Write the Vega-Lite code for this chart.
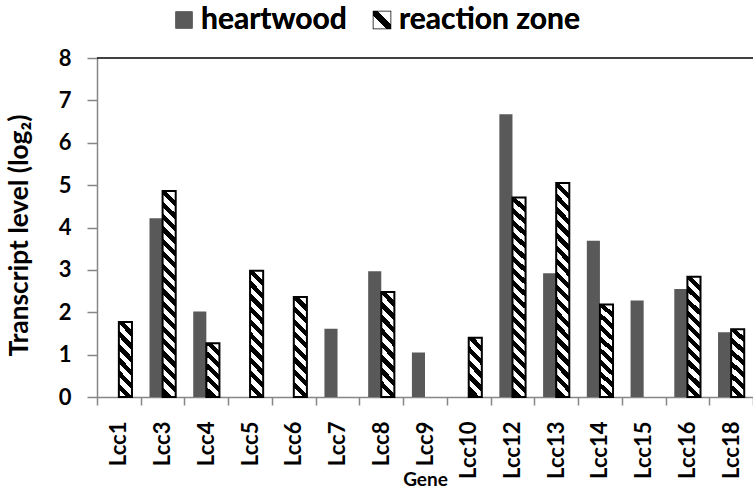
{
  "$schema": "https://vega.github.io/schema/vega-lite/v6.json",
  "autosize": {"type": "none"},
  "padding": {"left": 97, "top": 58, "right": 0, "bottom": 97},
  "width": 656,
  "height": 339,
  "background": "white",
  "config": {
    "view": {"stroke": null},
    "font": "Lato",
    "legend": {
      "orient": "none", "legendX": 72, "legendY": -53, "direction": "horizontal",
      "symbolType": "square", "symbolSize": 289, "symbolStrokeWidth": 1.5, "symbolOpacity": 1,
      "labelFont": "Lato", "labelFontSize": 30, "labelFontWeight": "bold", "labelColor": "#000000",
      "labelOffset": 2, "labelLimit": 400, "columnPadding": 20, "padding": 0
    }
  },
  "data": {
    "values": [
      {"gene": "Lcc3", "series": "heartwood", "value": 4.22},
      {"gene": "Lcc4", "series": "heartwood", "value": 2.02},
      {"gene": "Lcc7", "series": "heartwood", "value": 1.61},
      {"gene": "Lcc8", "series": "heartwood", "value": 2.97},
      {"gene": "Lcc9", "series": "heartwood", "value": 1.05},
      {"gene": "Lcc12", "series": "heartwood", "value": 6.67},
      {"gene": "Lcc13", "series": "heartwood", "value": 2.92},
      {"gene": "Lcc14", "series": "heartwood", "value": 3.69},
      {"gene": "Lcc15", "series": "heartwood", "value": 2.28},
      {"gene": "Lcc16", "series": "heartwood", "value": 2.55},
      {"gene": "Lcc18", "series": "heartwood", "value": 1.53},
      {"gene": "Lcc1", "series": "reaction zone", "value": 1.77},
      {"gene": "Lcc3", "series": "reaction zone", "value": 4.86},
      {"gene": "Lcc4", "series": "reaction zone", "value": 1.27},
      {"gene": "Lcc5", "series": "reaction zone", "value": 2.98},
      {"gene": "Lcc6", "series": "reaction zone", "value": 2.36},
      {"gene": "Lcc8", "series": "reaction zone", "value": 2.48},
      {"gene": "Lcc10", "series": "reaction zone", "value": 1.40},
      {"gene": "Lcc12", "series": "reaction zone", "value": 4.71},
      {"gene": "Lcc13", "series": "reaction zone", "value": 5.05},
      {"gene": "Lcc14", "series": "reaction zone", "value": 2.18},
      {"gene": "Lcc16", "series": "reaction zone", "value": 2.84},
      {"gene": "Lcc18", "series": "reaction zone", "value": 1.60}
    ]
  },
  "layer": [
    {
      "encoding": {
        "x": {
          "field": "gene", "type": "nominal", "title": "Gene",
          "scale": {"domain": ["Lcc1","Lcc3","Lcc4","Lcc5","Lcc6","Lcc7","Lcc8","Lcc9","Lcc10","Lcc12","Lcc13","Lcc14","Lcc15","Lcc16","Lcc18"], "paddingInner": 0, "paddingOuter": 0},
          "axis": {
            "labelAngle": -90, "labelAlign": "right", "labelBaseline": "middle",
            "labelFont": "Lato", "labelFontSize": 22, "labelFontWeight": "bold", "labelColor": "#000000",
            "labelPadding": 16, "labelOverlap": false, "tickBand": "extent",
            "tickSize": 8, "tickColor": "#868686", "tickWidth": 1.5,
            "domainColor": "#868686", "domainWidth": 1.5,
            "titleFont": "Lato", "titleFontSize": 19, "titleFontWeight": "bold", "titleColor": "#000000",
            "titleY": 88, "titleBaseline": "alphabetic"
          }
        },
        "xOffset": {
          "field": "series", "type": "nominal",
          "scale": {"domain": ["heartwood", "reaction zone"], "paddingInner": 0, "paddingOuter": 0.669}
        },
        "y": {
          "field": "value", "type": "quantitative", "title": "Transcript level (log₂)",
          "scale": {"domain": [0, 8], "nice": false},
          "axis": {
            "values": [0,1,2,3,4,5,6,7,8], "grid": false,
            "labelFont": "Lato", "labelFontSize": 22, "labelFontWeight": "bold", "labelColor": "#000000",
            "labelPadding": 16, "tickSize": 10, "tickColor": "#868686", "tickWidth": 1.5,
            "domainColor": "#868686", "domainWidth": 1.5,
            "titleFont": "Lato", "titleFontSize": 26.3, "titleFontWeight": "bold", "titleColor": "#000000",
            "titleAngle": -90, "titleX": -70, "titleY": 177, "titleAlign": "center", "titleBaseline": "alphabetic"
          }
        }
      },
      "resolve": {"scale": {"fill": "independent"}, "legend": {"fill": "independent"}},
      "layer": [
        {
          "transform": [{"filter": {"field": "series", "equal": "heartwood"}}],
          "mark": {"type": "bar", "strokeWidth": 1.5},
          "encoding": {
            "fill": {
              "field": "series", "type": "nominal", "title": null,
              "scale": {"domain": ["heartwood", "reaction zone"], "range": ["#595959", {"expr": "{gradient:'linear',x1:1,y1:0,x2:0,y2:1,stops:[{offset:0,color:'#fff'},{offset:0.36,color:'#fff'},{offset:0.36,color:'#000'},{offset:0.64,color:'#000'},{offset:0.64,color:'#fff'},{offset:1,color:'#fff'}]}"}]}
            },
            "stroke": {
              "field": "series", "type": "nominal", "title": null,
              "scale": {"domain": ["heartwood", "reaction zone"], "range": ["transparent", "#000000"]}
            }
          }
        },
        {
          "transform": [{"filter": {"field": "series", "equal": "reaction zone"}}],
          "mark": {"type": "bar", "stroke": "#000000", "strokeWidth": 2},
          "encoding": {
            "fill": {
              "field": "value", "type": "quantitative", "legend": null,
              "scale": {
                "type": "threshold", "domain": [1.5, 1.9, 2.6, 3.5],
                "range": [
                  {"expr": "{gradient:'linear',x1:0.615,y1:0,x2:0.385,y2:1,stops:[{offset:0,color:'#fff'},{offset:0.05,color:'#fff'},{offset:0.05,color:'#000'},{offset:0.156,color:'#000'},{offset:0.156,color:'#fff'},{offset:0.262,color:'#fff'},{offset:0.262,color:'#000'},{offset:0.368,color:'#000'},{offset:0.368,color:'#fff'},{offset:0.474,color:'#fff'},{offset:0.474,color:'#000'},{offset:0.58,color:'#000'},{offset:0.58,color:'#fff'},{offset:0.686,color:'#fff'},{offset:0.686,color:'#000'},{offset:0.792,color:'#000'},{offset:0.792,color:'#fff'},{offset:0.898,color:'#fff'},{offset:0.898,color:'#000'},{offset:1,color:'#000'}]}"},
                  {"expr": "{gradient:'linear',x1:0.5915,y1:0,x2:0.4085,y2:1,stops:[{offset:0,color:'#fff'},{offset:0.04,color:'#fff'},{offset:0.04,color:'#000'},{offset:0.125,color:'#000'},{offset:0.125,color:'#fff'},{offset:0.21,color:'#fff'},{offset:0.21,color:'#000'},{offset:0.295,color:'#000'},{offset:0.295,color:'#fff'},{offset:0.38,color:'#fff'},{offset:0.38,color:'#000'},{offset:0.465,color:'#000'},{offset:0.465,color:'#fff'},{offset:0.55,color:'#fff'},{offset:0.55,color:'#000'},{offset:0.635,color:'#000'},{offset:0.635,color:'#fff'},{offset:0.72,color:'#fff'},{offset:0.72,color:'#000'},{offset:0.805,color:'#000'},{offset:0.805,color:'#fff'},{offset:0.89,color:'#fff'},{offset:0.89,color:'#000'},{offset:0.975,color:'#000'},{offset:0.975,color:'#fff'},{offset:1,color:'#fff'}]}"},
                  {"expr": "{gradient:'linear',x1:0.5655,y1:0,x2:0.4345,y2:1,stops:[{offset:0,color:'#fff'},{offset:0.03,color:'#fff'},{offset:0.03,color:'#000'},{offset:0.092,color:'#000'},{offset:0.092,color:'#fff'},{offset:0.154,color:'#fff'},{offset:0.154,color:'#000'},{offset:0.216,color:'#000'},{offset:0.216,color:'#fff'},{offset:0.278,color:'#fff'},{offset:0.278,color:'#000'},{offset:0.34,color:'#000'},{offset:0.34,color:'#fff'},{offset:0.402,color:'#fff'},{offset:0.402,color:'#000'},{offset:0.464,color:'#000'},{offset:0.464,color:'#fff'},{offset:0.526,color:'#fff'},{offset:0.526,color:'#000'},{offset:0.588,color:'#000'},{offset:0.588,color:'#fff'},{offset:0.65,color:'#fff'},{offset:0.65,color:'#000'},{offset:0.712,color:'#000'},{offset:0.712,color:'#fff'},{offset:0.774,color:'#fff'},{offset:0.774,color:'#000'},{offset:0.836,color:'#000'},{offset:0.836,color:'#fff'},{offset:0.898,color:'#fff'},{offset:0.898,color:'#000'},{offset:0.96,color:'#000'},{offset:0.96,color:'#fff'},{offset:1,color:'#fff'}]}"},
                  {"expr": "{gradient:'linear',x1:0.553,y1:0,x2:0.447,y2:1,stops:[{offset:0,color:'#fff'},{offset:0.03,color:'#fff'},{offset:0.03,color:'#000'},{offset:0.08,color:'#000'},{offset:0.08,color:'#fff'},{offset:0.13,color:'#fff'},{offset:0.13,color:'#000'},{offset:0.18,color:'#000'},{offset:0.18,color:'#fff'},{offset:0.23,color:'#fff'},{offset:0.23,color:'#000'},{offset:0.28,color:'#000'},{offset:0.28,color:'#fff'},{offset:0.33,color:'#fff'},{offset:0.33,color:'#000'},{offset:0.38,color:'#000'},{offset:0.38,color:'#fff'},{offset:0.43,color:'#fff'},{offset:0.43,color:'#000'},{offset:0.48,color:'#000'},{offset:0.48,color:'#fff'},{offset:0.53,color:'#fff'},{offset:0.53,color:'#000'},{offset:0.58,color:'#000'},{offset:0.58,color:'#fff'},{offset:0.63,color:'#fff'},{offset:0.63,color:'#000'},{offset:0.68,color:'#000'},{offset:0.68,color:'#fff'},{offset:0.73,color:'#fff'},{offset:0.73,color:'#000'},{offset:0.78,color:'#000'},{offset:0.78,color:'#fff'},{offset:0.83,color:'#fff'},{offset:0.83,color:'#000'},{offset:0.88,color:'#000'},{offset:0.88,color:'#fff'},{offset:0.93,color:'#fff'},{offset:0.93,color:'#000'},{offset:0.98,color:'#000'},{offset:0.98,color:'#fff'},{offset:1,color:'#fff'}]}"},
                  {"expr": "{gradient:'linear',x1:0.5315,y1:0,x2:0.4685,y2:1,stops:[{offset:0,color:'#fff'},{offset:0.02,color:'#fff'},{offset:0.02,color:'#000'},{offset:0.05,color:'#000'},{offset:0.05,color:'#fff'},{offset:0.08,color:'#fff'},{offset:0.08,color:'#000'},{offset:0.11,color:'#000'},{offset:0.11,color:'#fff'},{offset:0.14,color:'#fff'},{offset:0.14,color:'#000'},{offset:0.17,color:'#000'},{offset:0.17,color:'#fff'},{offset:0.2,color:'#fff'},{offset:0.2,color:'#000'},{offset:0.23,color:'#000'},{offset:0.23,color:'#fff'},{offset:0.26,color:'#fff'},{offset:0.26,color:'#000'},{offset:0.29,color:'#000'},{offset:0.29,color:'#fff'},{offset:0.32,color:'#fff'},{offset:0.32,color:'#000'},{offset:0.35,color:'#000'},{offset:0.35,color:'#fff'},{offset:0.38,color:'#fff'},{offset:0.38,color:'#000'},{offset:0.41,color:'#000'},{offset:0.41,color:'#fff'},{offset:0.44,color:'#fff'},{offset:0.44,color:'#000'},{offset:0.47,color:'#000'},{offset:0.47,color:'#fff'},{offset:0.5,color:'#fff'},{offset:0.5,color:'#000'},{offset:0.53,color:'#000'},{offset:0.53,color:'#fff'},{offset:0.56,color:'#fff'},{offset:0.56,color:'#000'},{offset:0.59,color:'#000'},{offset:0.59,color:'#fff'},{offset:0.62,color:'#fff'},{offset:0.62,color:'#000'},{offset:0.65,color:'#000'},{offset:0.65,color:'#fff'},{offset:0.68,color:'#fff'},{offset:0.68,color:'#000'},{offset:0.71,color:'#000'},{offset:0.71,color:'#fff'},{offset:0.74,color:'#fff'},{offset:0.74,color:'#000'},{offset:0.77,color:'#000'},{offset:0.77,color:'#fff'},{offset:0.8,color:'#fff'},{offset:0.8,color:'#000'},{offset:0.83,color:'#000'},{offset:0.83,color:'#fff'},{offset:0.86,color:'#fff'},{offset:0.86,color:'#000'},{offset:0.89,color:'#000'},{offset:0.89,color:'#fff'},{offset:0.92,color:'#fff'},{offset:0.92,color:'#000'},{offset:0.95,color:'#000'},{offset:0.95,color:'#fff'},{offset:0.98,color:'#fff'},{offset:0.98,color:'#000'},{offset:1,color:'#000'}]}"}
                ]
              }
            }
          }
        }
      ]
    },
    {
      "data": {"values": [{"top": 8}]},
      "mark": {"type": "rule", "color": "#000000", "strokeWidth": 1.5},
      "encoding": {
        "y": {"field": "top", "type": "quantitative", "title": "Transcript level (log₂)"}
      }
    }
  ]
}
